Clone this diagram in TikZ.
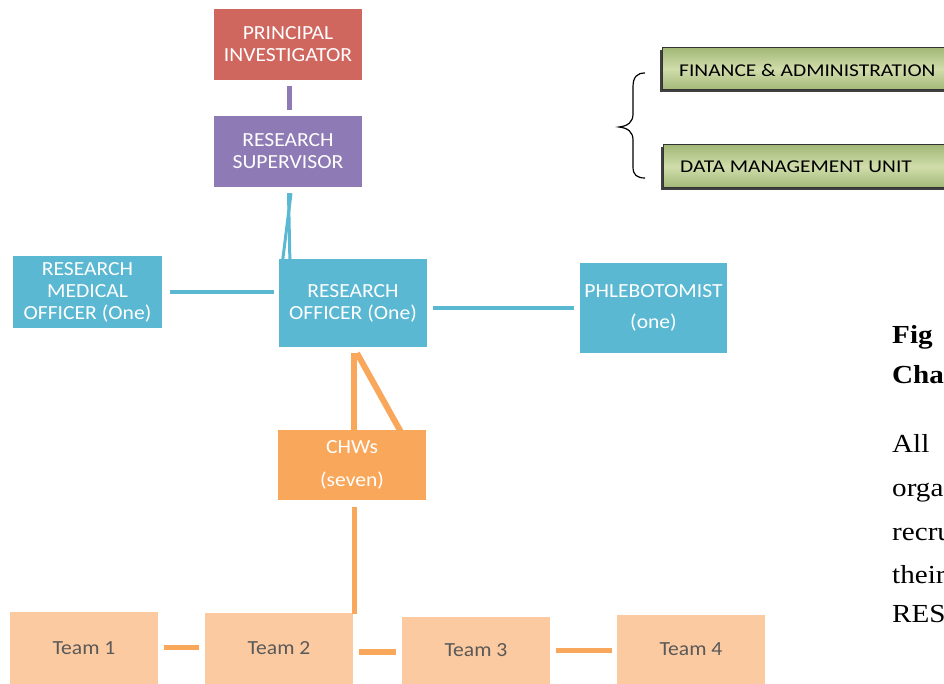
\documentclass[tikz,border=0pt]{standalone}
\usepackage{fontspec}
\setmainfont[FakeStretch=1.08]{Carlito}
\newfontfamily\unitfont[FakeStretch=1.19]{Carlito}
\newfontfamily\bodyfont[FakeStretch=1.12]{Liberation Serif}
\usetikzlibrary{calc}
\definecolor{piRed}{HTML}{D0675F}
\definecolor{supPurple}{HTML}{8E7AB5}
\definecolor{offCyan}{HTML}{5AB8D3}
\definecolor{chwOrange}{HTML}{F9A75A}
\definecolor{teamPeach}{HTML}{FBCAA0}
\definecolor{teamText}{HTML}{595959}
\definecolor{oliveDark}{HTML}{A3B878}
\definecolor{oliveLight}{HTML}{D0DDAA}
\tikzset{
  orgbox/.style={minimum width=148pt, inner sep=0pt, align=center,
    text=white, font=\fontsize{20}{22}\selectfont},
  teambox/.style={orgbox, fill=teamPeach, text=teamText},
  link/.style={line width=#1, line cap=butt},
  bodyline/.style={anchor=base west, inner sep=0pt,
    font=\bodyfont\fontsize{26}{30}\selectfont}
}
\begin{document}
\begin{tikzpicture}[x=1pt,y=1pt]
\useasboundingbox (0,0) rectangle (944,-684);
\fill[white] (0,0) rectangle (944,-684);

% management line
\node[orgbox, fill=piRed, minimum height=71pt] (pi) at (288,-44.5) {PRINCIPAL\\INVESTIGATOR};
\node[orgbox, fill=supPurple, minimum height=71pt] (rs) at (288,-151.5) {RESEARCH\\SUPERVISOR};

% officers
\node[orgbox, fill=offCyan, minimum width=149pt, minimum height=72pt] (rmo) at (87.5,-292) {RESEARCH\\MEDICAL\\OFFICER (One)};
\node[orgbox, fill=offCyan, minimum height=88pt] (ro) at (353,-303) {RESEARCH\\OFFICER (One)};
\node[orgbox, fill=offCyan, minimum width=147pt, minimum height=90pt,
  font=\fontsize{20}{31}\selectfont] (ph) at (653.5,-308) {PHLEBOTOMIST\\(one)};

% community health workers
\node[orgbox, fill=chwOrange, minimum height=70pt,
  font=\fontsize{20}{33}\selectfont] (chw) at (352,-465) {CHWs\\(seven)};

% field teams
\node[teambox, minimum height=72pt] (t1) at (84,-648) {Team 1};
\node[teambox, minimum height=71pt] (t2) at (279,-648.5) {Team 2};
\node[teambox, minimum height=67pt] (t3) at (476,-650.5) {Team 3};
\node[teambox, minimum height=69pt] (t4) at (691,-649.5) {Team 4};

% connectors
\draw[supPurple, link=5pt] ($(pi.south)+(1,-6)$) -- ($(rs.north)+(1,6)$);
\draw[offCyan, link=3pt] ($(rs.south)+(0.5,-6)$) -- ($(ro.north)+(-63,-7)$);
\draw[offCyan, link=3pt] ($(rs.south)+(3,-6)$) -- ($(ro.north)+(-71,-7)$);
\draw[offCyan, link=4.5pt] ($(rmo.east)+(8,0)$) -- ($(ro.west)+(-5,11)$);
\draw[offCyan, link=4pt] ($(ro.east)+(6,-5)$) -- ($(ph.west)+(-6,0)$);
\draw[chwOrange, link=6pt] ($(ro.south)+(1,-6)$) -- ($(chw.north)+(2,-6)$);
\draw[chwOrange, link=6pt] ($(ro.south)+(4,-6)$) -- ($(chw.north)+(51,-6)$);
\draw[chwOrange, link=5pt] ($(chw.south)+(2,-7)$) -- ($(t2.north)+(75,-1)$);
\draw[chwOrange, link=5pt] ($(t1.east)+(6,1)$) -- ($(t2.west)+(-6,1.5)$);
\draw[chwOrange, link=6pt] ($(t2.east)+(6,-3.5)$) -- ($(t3.west)+(-6,-1.5)$);
\draw[chwOrange, link=5pt] ($(t3.east)+(6,0.5)$) -- ($(t4.west)+(-5,-0.5)$);

% support units, running off the right edge
\begin{scope}
\clip (0,0) rectangle (944,-684);
\fill[black!75] (660,-50) rectangle (962,-92);
\shade[top color=oliveDark, bottom color=oliveDark, middle color=oliveLight,
  draw=black!80, line width=1pt] (662,-48) rectangle (960,-90);
\node[anchor=west, inner sep=0pt, font=\unitfont\fontsize{18}{20}\selectfont] (fa)
  at (679,-70) {FINANCE \& ADMINISTRATION};
\fill[black!75] (661,-147) rectangle (962,-190);
\shade[top color=oliveDark, bottom color=oliveDark, middle color=oliveLight,
  draw=black!80, line width=1pt] (663,-145) rectangle (960,-188);
\node[anchor=west, inner sep=0pt, font=\unitfont\fontsize{18}{20}\selectfont] (dmu)
  at (680,-167) {DATA MANAGEMENT UNIT};

% running text beside the chart
\node[bodyline, font=\bodyfont\bfseries\fontsize{26}{30}\selectfont] (f1) at (892,-343) {Fig};
\node[bodyline, font=\bodyfont\bfseries\fontsize{26}{30}\selectfont] (f2) at (892,-383) {Cha};
\node[bodyline] (p1) at (892,-452) {All};
\node[bodyline] (p2) at (892,-496) {orga};
\node[bodyline] (p3) at (892,-540) {recru};
\node[bodyline] (p4) at (892,-583) {their};
\node[bodyline] (p5) at (892,-622) {RES};
\end{scope}

% brace grouping the support units
\draw[black, line width=1.2pt]
  (645,-73) .. controls (637,-73) and (633,-77) .. (633,-87) -- (633,-114)
  .. controls (633,-122) and (628,-126) .. (619,-127)
  .. controls (628,-128) and (633,-132) .. (633,-140) -- (633,-167)
  .. controls (633,-175) and (637,-178) .. (645,-178);
\end{tikzpicture}
\end{document}
